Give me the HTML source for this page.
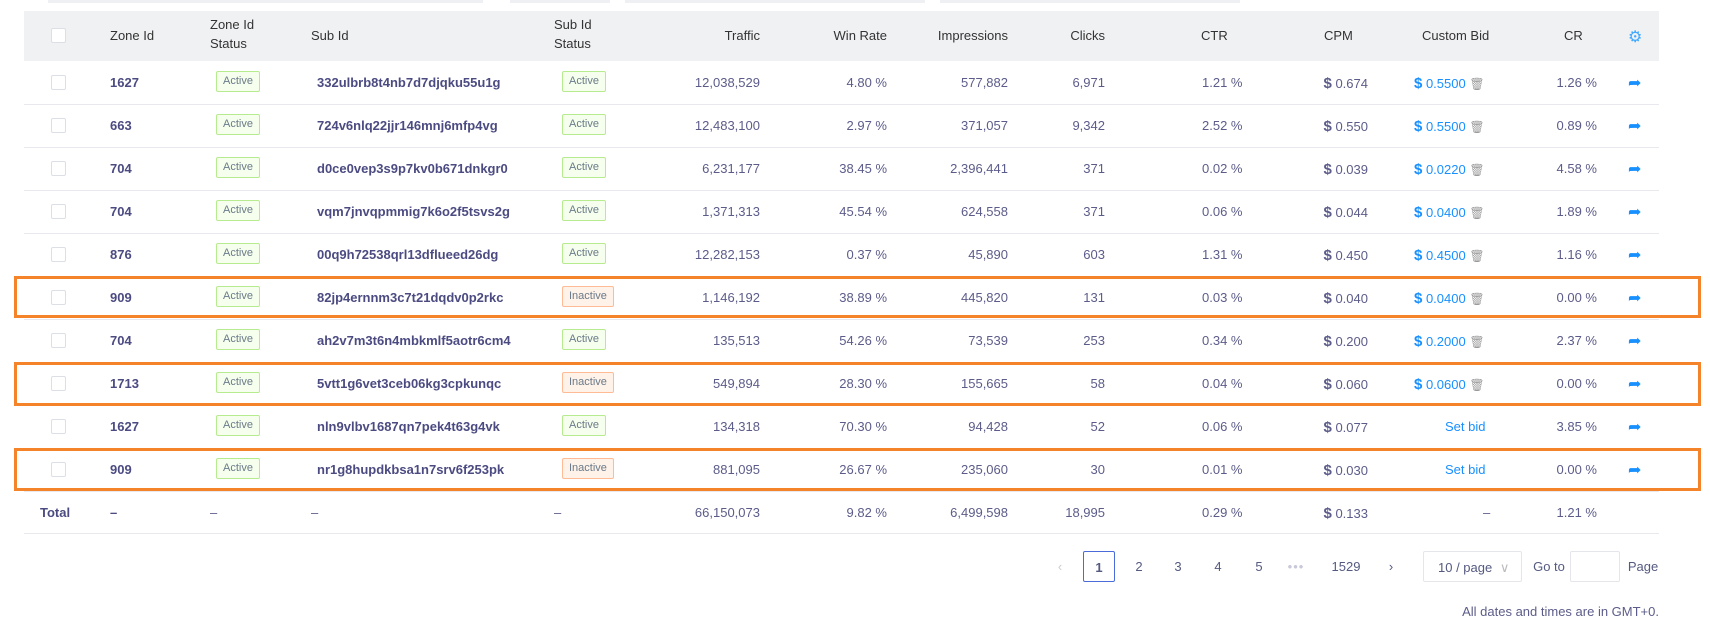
<!DOCTYPE html>
<html><head><meta charset="utf-8"><style>
*{margin:0;padding:0;box-sizing:border-box}
body{width:1710px;height:640px;background:#fff;position:relative;overflow:hidden;font-family:"Liberation Sans",sans-serif;font-size:13px;color:#5c5c8a}
.a{position:absolute;white-space:nowrap}
.hd{position:absolute;left:24px;top:11px;width:1635px;height:50px;background:#f0f1f3}
.h{color:#333;font-size:13px;line-height:19px}
.line{position:absolute;left:24px;width:1635px;height:1px;background:#e8e8ee}
.cb{position:absolute;width:15px;height:15px;border:1px solid #dcdfe6;border-radius:2px;background:#fff}
.bg{position:absolute;height:21px;line-height:19px;font-size:11px;padding:0 6px;border:1px solid #b7eb8f;background:#f6ffed;color:#6a7a8a;border-radius:2px}
.in{border-color:#ffbb96;background:#fff2e8}
.b{font-weight:bold;color:#4b4b82}
.r{text-align:right}
.bl{color:#1890ff}
.box{position:absolute;left:14px;width:1687px;border:3px solid #f5832a}
.pg{position:absolute;top:551px;height:31px;line-height:31px;text-align:center;color:#555a80}
</style></head><body>
<div class="a" style="left:48px;top:0;width:360px;height:3px;background:#eef0f4"></div>
<div class="a" style="left:383px;top:0;width:100px;height:3px;background:#eef0f4"></div>
<div class="a" style="left:510px;top:0;width:100px;height:3px;background:#eef0f4"></div>
<div class="a" style="left:625px;top:0;width:300px;height:3px;background:#eef0f4"></div>
<div class="a" style="left:940px;top:0;width:300px;height:3px;background:#eef0f4"></div>
<div class="hd"></div>
<div class="cb" style="left:51px;top:28px"></div>
<div class="a h" style="left:110px;top:26px">Zone Id</div>
<div class="a h" style="left:210px;top:15px">Zone Id<br>Status</div>
<div class="a h" style="left:311px;top:26px">Sub Id</div>
<div class="a h" style="left:554px;top:15px">Sub Id<br>Status</div>
<div class="a h r" style="left:660px;width:100px;top:26px">Traffic</div>
<div class="a h r" style="left:787px;width:100px;top:26px">Win Rate</div>
<div class="a h r" style="left:908px;width:100px;top:26px">Impressions</div>
<div class="a h r" style="left:1005px;width:100px;top:26px">Clicks</div>
<div class="a h" style="left:1201px;top:26px">CTR</div>
<div class="a h" style="left:1324px;top:26px">CPM</div>
<div class="a h" style="left:1422px;top:26px">Custom Bid</div>
<div class="a h" style="left:1564px;top:26px">CR</div>
<div class="a" style="left:1628px;top:27px;color:#40a9ff;font-size:16px">⚙</div>
<div id="rows"></div>
<div class="box" style="top:276px;height:42px"></div>
<div class="box" style="top:362px;height:44px"></div>
<div class="box" style="top:448px;height:43px"></div>
<div class="pg" style="left:1050px;width:20px;color:#ccc">‹</div>
<div class="pg" style="left:1083px;width:32px;border:1px solid #4b6cd8;border-radius:2px;font-weight:bold">1</div>
<div class="pg" style="left:1129px;width:20px">2</div>
<div class="pg" style="left:1168px;width:20px">3</div>
<div class="pg" style="left:1208px;width:20px">4</div>
<div class="pg" style="left:1249px;width:20px">5</div>
<div class="pg" style="left:1280px;width:32px;color:#c8c8d8;letter-spacing:1px">•••</div>
<div class="pg" style="left:1328px;width:36px">1529</div>
<div class="pg" style="left:1381px;width:20px">›</div>
<div class="pg" style="left:1423px;width:99px;border:1px solid #e4e6ec;border-radius:2px;text-align:left;padding-left:14px">10 / page <span style="color:#bbb;margin-left:4px">∨</span></div>
<div class="pg" style="left:1532px;width:34px">Go to</div>
<div class="pg" style="left:1570px;width:50px;border:1px solid #e4e6ec;border-radius:2px"></div>
<div class="pg" style="left:1627px;width:32px">Page</div>
<div class="a" style="right:51px;top:604px">All dates and times are in GMT+0.</div>
<script>
var d=[
["1627","332ulbrb8t4nb7d7djqku55u1g",1,"12,038,529","4.80 %","577,882","6,971","1.21 %","0.674","0.5500","1.26 %"],
["663","724v6nlq22jjr146mnj6mfp4vg",1,"12,483,100","2.97 %","371,057","9,342","2.52 %","0.550","0.5500","0.89 %"],
["704","d0ce0vep3s9p7kv0b671dnkgr0",1,"6,231,177","38.45 %","2,396,441","371","0.02 %","0.039","0.0220","4.58 %"],
["704","vqm7jnvqpmmig7k6o2f5tsvs2g",1,"1,371,313","45.54 %","624,558","371","0.06 %","0.044","0.0400","1.89 %"],
["876","00q9h72538qrl13dflueed26dg",1,"12,282,153","0.37 %","45,890","603","1.31 %","0.450","0.4500","1.16 %"],
["909","82jp4ernnm3c7t21dqdv0p2rkc",0,"1,146,192","38.89 %","445,820","131","0.03 %","0.040","0.0400","0.00 %"],
["704","ah2v7m3t6n4mbkmlf5aotr6cm4",1,"135,513","54.26 %","73,539","253","0.34 %","0.200","0.2000","2.37 %"],
["1713","5vtt1g6vet3ceb06kg3cpkunqc",0,"549,894","28.30 %","155,665","58","0.04 %","0.060","0.0600","0.00 %"],
["1627","nln9vlbv1687qn7pek4t63g4vk",1,"134,318","70.30 %","94,428","52","0.06 %","0.077","","3.85 %"],
["909","nr1g8hupdkbsa1n7srv6f253pk",0,"881,095","26.67 %","235,060","30","0.01 %","0.030","","0.00 %"]];
var h="";
d.forEach(function(r,i){var y=61+i*43,t=y+14;
h+='<div class="cb" style="left:51px;top:'+(y+14)+'px"></div>';
h+='<div class="a b" style="left:110px;top:'+t+'px">'+r[0]+'</div>';
h+='<div class="bg" style="left:216px;top:'+(y+10)+'px">Active</div>';
h+='<div class="a b" style="left:317px;top:'+t+'px">'+r[1]+'</div>';
h+='<div class="bg'+(r[2]?'':' in')+'" style="left:562px;top:'+(y+10)+'px">'+(r[2]?'Active':'Inactive')+'</div>';
h+='<div class="a r" style="left:660px;width:100px;top:'+t+'px">'+r[3]+'</div>';
h+='<div class="a r" style="left:787px;width:100px;top:'+t+'px">'+r[4]+'</div>';
h+='<div class="a r" style="left:908px;width:100px;top:'+t+'px">'+r[5]+'</div>';
h+='<div class="a r" style="left:1005px;width:100px;top:'+t+'px">'+r[6]+'</div>';
h+='<div class="a" style="left:1202px;top:'+t+'px">'+r[7]+'</div>';
h+='<div class="a r" style="left:1268px;width:100px;top:'+t+'px"><b style="font-size:15px">$</b> '+r[8]+'</div>';
if(r[9])h+='<div class="a bl" style="left:1414px;top:'+t+'px"><b style="font-size:15px">$</b> '+r[9]+' <span style="color:#999;font-size:12px">🗑</span></div>';
else h+='<div class="a bl" style="left:1445px;top:'+t+'px">Set bid</div>';
h+='<div class="a r" style="left:1497px;width:100px;top:'+t+'px">'+r[10]+'</div>';
h+='<div class="a" style="left:1628px;top:'+(t-2)+'px;color:#1890ff;font-size:16px">➦</div>';
h+='<div class="line" style="top:'+(y+43)+'px"></div>';});
var y=491,t=505;
h+='<div class="a b" style="left:40px;top:'+t+'px">Total</div><div class="a b" style="left:110px;top:'+t+'px">–</div><div class="a" style="left:210px;top:'+t+'px">–</div><div class="a" style="left:311px;top:'+t+'px">–</div><div class="a" style="left:554px;top:'+t+'px">–</div>';
h+='<div class="a r" style="left:660px;width:100px;top:'+t+'px">66,150,073</div><div class="a r" style="left:787px;width:100px;top:'+t+'px">9.82 %</div><div class="a r" style="left:908px;width:100px;top:'+t+'px">6,499,598</div><div class="a r" style="left:1005px;width:100px;top:'+t+'px">18,995</div><div class="a" style="left:1202px;top:'+t+'px">0.29 %</div><div class="a r" style="left:1268px;width:100px;top:'+t+'px"><b style="font-size:15px">$</b> 0.133</div><div class="a" style="left:1483px;top:'+t+'px">–</div><div class="a r" style="left:1497px;width:100px;top:'+t+'px">1.21 %</div>';
h+='<div class="line" style="top:533px"></div>';
document.getElementById("rows").innerHTML=h;
</script>
</body></html>
